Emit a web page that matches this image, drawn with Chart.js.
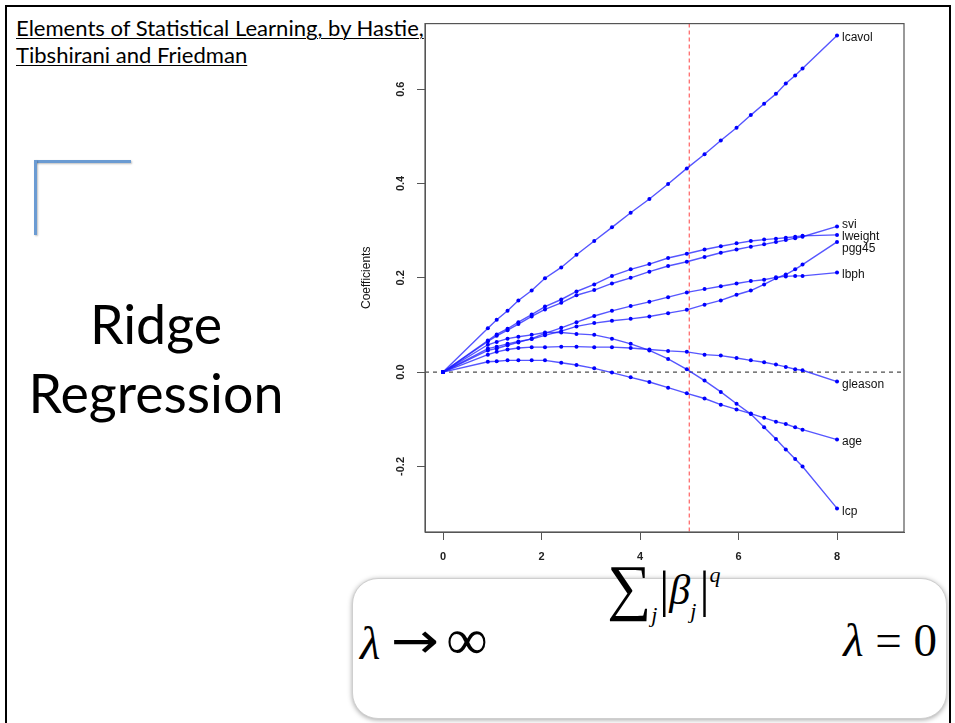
<!DOCTYPE html>
<html>
<head>
<meta charset="utf-8">
<script src="https://cdn.jsdelivr.net/npm/chart.js@4.4.1/dist/chart.umd.min.js"></script>
<style>
  html, body { margin: 0; padding: 0; background: #fff; }
  body { width: 955px; height: 723px; position: relative; overflow: hidden; }
  .abs { position: absolute; white-space: nowrap; }
  #frame { left: 5px; top: 5px; width: 946px; height: 760px; border: 2px solid #000; box-sizing: border-box; }
  #title { left: 16px; top: 14px; font-family: Lato, "Open Sans", sans-serif; font-size: 20px; line-height: 27px; color: #000; }
  #title span { text-decoration: underline; text-underline-offset: 2px; text-decoration-thickness: 1px; }
  .bracket { background: #6b9bd2; box-shadow: 1px 1px 2px rgba(0,0,0,0.25); }
  .big { font-family: Lato, "Open Sans", sans-serif; font-size: 48px; line-height: 48px; color: #000; text-align: center; width: 320px; left: -4px; }
  #box { left: 352px; top: 578px; width: 595px; height: 141px; border: 1px solid #cfcfcf; border-radius: 26px; box-shadow: 0 1px 5px rgba(0,0,0,0.35); background: #fff; box-sizing: border-box; }
  .math { font-family: "Liberation Serif", "Times New Roman", serif; color: #000; }
  .arrow { font-family: "DejaVu Sans", sans-serif; font-size: 50px; display: inline-block; transform: scaleX(1.15); margin: 0 10px 0 14px; position: relative; top: -1px; }
  #chartWrap { left: 340px; top: 10px; width: 600px; height: 565px; }
</style>
</head>
<body>
<div id="frame" class="abs"></div>
<div id="title" class="abs"><span id="t1">Elements of Statistical Learning, by Hastie,</span><br><span>Tibshirani and Friedman</span></div>
<div class="abs bracket" style="left:34px; top:160px; width:97px; height:3px;"></div>
<div class="abs bracket" style="left:34px; top:160px; width:3px; height:75px;"></div>
<div id="ridge" class="abs big" style="top:299px;">Ridge</div>
<div id="regr" class="abs big" style="top:368px;">Regression</div>

<div id="box" class="abs"></div>
<div class="abs math" style="left:360px; top:614px; font-size:47px; line-height:52px;"><i>λ</i><span class="arrow">→</span><span style="font-size:58px;">∞</span></div>
<div class="abs math" style="right:18px; top:614px; font-size:47px; line-height:52px;"><i>λ</i> = 0</div>
<div class="abs math" style="left:607px; top:552px; line-height:70px;">
  <span style="font-size:62px;">∑</span><span style="font-size:22px; font-style:italic; position:relative; top:14px;">j</span><span style="font-size:50px; position:relative; top:-2px; margin-left:2px;">|</span><span style="font-size:42px; font-style:italic; position:relative; top:-4px;">β</span><span style="font-size:22px; font-style:italic; position:relative; top:10px;">j</span><span style="font-size:50px; position:relative; top:-2px; margin-left:3px;">|</span><span style="font-size:22px; font-style:italic; position:relative; top:-26px;">q</span>
</div>

<div id="chartWrap" class="abs"><canvas id="ridgeChart" width="600" height="565"></canvas></div>

<script>
(function(){
  // ridge coefficient profiles (x = df(lambda))
  const dfGrid = [0, 0.91, 1.09, 1.31, 1.53, 1.80, 2.07, 2.40, 2.71, 3.07, 3.43, 3.81, 4.19, 4.57, 4.95, 5.31, 5.64, 5.96, 6.25, 6.52, 6.76, 6.96, 7.15, 7.30, 8.00];
  const lcavol  = [0, 0.093, 0.111, 0.130, 0.152, 0.173, 0.199, 0.222, 0.249, 0.278, 0.307, 0.338, 0.367, 0.399, 0.432, 0.462, 0.491, 0.518, 0.545, 0.569, 0.590, 0.612, 0.629, 0.644, 0.714];
  const lweight = [0, 0.067, 0.080, 0.092, 0.106, 0.122, 0.139, 0.154, 0.171, 0.186, 0.204, 0.218, 0.229, 0.242, 0.251, 0.260, 0.267, 0.273, 0.278, 0.281, 0.283, 0.285, 0.287, 0.289, 0.291];
  const svi     = [0, 0.065, 0.077, 0.089, 0.102, 0.118, 0.133, 0.147, 0.163, 0.174, 0.188, 0.200, 0.213, 0.225, 0.234, 0.244, 0.253, 0.260, 0.266, 0.271, 0.276, 0.280, 0.284, 0.287, 0.309];
  const lbph    = [0, 0.046, 0.050, 0.057, 0.063, 0.071, 0.082, 0.094, 0.106, 0.119, 0.130, 0.140, 0.149, 0.159, 0.169, 0.176, 0.182, 0.188, 0.193, 0.196, 0.201, 0.203, 0.204, 0.204, 0.211];
  const pgg45   = [0, 0.050, 0.054, 0.060, 0.065, 0.070, 0.078, 0.087, 0.097, 0.104, 0.109, 0.113, 0.118, 0.125, 0.132, 0.143, 0.152, 0.164, 0.173, 0.186, 0.199, 0.207, 0.218, 0.228, 0.276];
  const gleason = [0, 0.037, 0.043, 0.048, 0.051, 0.053, 0.053, 0.054, 0.054, 0.053, 0.053, 0.051, 0.048, 0.045, 0.043, 0.037, 0.035, 0.030, 0.025, 0.021, 0.016, 0.011, 0.006, 0.004, -0.020];
  const lcp     = [0, 0.058, 0.064, 0.071, 0.075, 0.079, 0.084, 0.084, 0.081, 0.079, 0.071, 0.060, 0.046, 0.028, 0.006, -0.018, -0.042, -0.067, -0.089, -0.117, -0.142, -0.164, -0.184, -0.200, -0.289];
  const age     = [0, 0.022, 0.023, 0.025, 0.025, 0.025, 0.025, 0.020, 0.015, 0.008, -0.001, -0.011, -0.021, -0.033, -0.045, -0.056, -0.069, -0.079, -0.088, -0.097, -0.105, -0.110, -0.117, -0.122, -0.143];

  const seriesNames = ['lcavol', 'lweight', 'age', 'lbph', 'svi', 'lcp', 'gleason', 'pgg45'];
  const seriesData  = [lcavol, lweight, age, lbph, svi, lcp, gleason, pgg45];
  // where the end labels sit (spread a little so they don't collide)
  const labelY      = [0.709, 0.288, -0.147, 0.206, 0.312, -0.295, -0.027, 0.261];

  const xTicks = [0, 2, 4, 6, 8];
  const yTicks = [-0.2, 0.0, 0.2, 0.4, 0.6];
  const xRange = [-0.366, 9.36];
  const yRange = [-0.339, 0.739];
  const chosenDf = 5;

  // fit big slide text to the widths in the picture
  function fitWidth(el, target) {
    const fs = parseFloat(getComputedStyle(el).fontSize);
    const r = document.createRange(); r.selectNodeContents(el);
    const w = r.getBoundingClientRect().width;
    return fs * target / w;
  }
  const t1 = document.getElementById('t1');
  document.getElementById('title').style.fontSize = fitWidth(t1, 408) + 'px';
  const regr = document.getElementById('regr');
  const bigSize = fitWidth(regr, 255);
  regr.style.fontSize = bigSize + 'px';
  document.getElementById('ridge').style.fontSize = bigSize + 'px';

  const frameBox = {
    id: 'frameBox',
    beforeDatasetsDraw(chart) {
      const {ctx, chartArea: a, scales: {x, y}} = chart;
      ctx.save();
      // zero line
      ctx.strokeStyle = '#555'; ctx.lineWidth = 1.3; ctx.setLineDash([4, 4]);
      const y0 = y.getPixelForValue(0);
      ctx.beginPath(); ctx.moveTo(a.left, y0); ctx.lineTo(a.right, y0); ctx.stroke();
      // chosen df
      ctx.strokeStyle = 'rgba(255,80,80,0.9)'; ctx.lineWidth = 1.2; ctx.setLineDash([4, 3]);
      const xd = x.getPixelForValue(chosenDf);
      ctx.beginPath(); ctx.moveTo(xd, a.top); ctx.lineTo(xd, a.bottom); ctx.stroke();
      ctx.restore();
    },
    afterDraw(chart) {
      const {ctx, chartArea: a} = chart;
      ctx.save();
      ctx.strokeStyle = '#555'; ctx.lineWidth = 1.2;
      ctx.strokeRect(a.left, a.top, a.right - a.left, a.bottom - a.top);
      ctx.restore();
    }
  };

  const endLabels = {
    id: 'endLabels',
    afterDatasetsDraw(chart) {
      const {ctx, scales: {y}} = chart;
      ctx.save();
      ctx.font = '12px "Liberation Sans", Arial, sans-serif';
      ctx.fillStyle = '#111';
      ctx.textAlign = 'left'; ctx.textBaseline = 'middle';
      chart.data.datasets.forEach((ds, i) => {
        const pts = chart.getDatasetMeta(i).data;
        const last = pts[pts.length - 1];
        ctx.fillText(ds.label, last.x + 5, y.getPixelForValue(labelY[i]));
      });
      ctx.restore();
    }
  };

  const axisFont = {family: '"Liberation Sans", Arial, sans-serif', size: 11, weight: 'bold'};

  new Chart(document.getElementById('ridgeChart'), {
    type: 'line',
    data: {
      datasets: seriesNames.map((name, i) => ({
        label: name,
        data: dfGrid.map((d, j) => ({x: d, y: seriesData[i][j]})),
        borderColor: 'rgba(30,30,255,0.75)',
        borderWidth: 1.4,
        pointRadius: 2,
        pointBackgroundColor: '#0000ff',
        pointBorderWidth: 0,
        tension: 0,
        fill: false
      }))
    },
    options: {
      responsive: false,
      animation: false,
      layout: {padding: {top: 10, right: 36, left: 0, bottom: 0}},
      plugins: {legend: {display: false}, tooltip: {enabled: false}},
      scales: {
        x: {
          type: 'linear', min: xRange[0], max: xRange[1],
          afterBuildTicks: s => { s.ticks = xTicks.map(v => ({value: v})); },
          afterFit: s => { s.height = 43; },
          grid: {drawOnChartArea: false, drawTicks: true, tickLength: 8, color: '#555', lineWidth: 1},
          border: {display: true, color: '#555', width: 1},
          ticks: {font: axisFont, color: '#222', padding: 10, maxRotation: 0, callback: v => String(v)}
        },
        y: {
          type: 'linear', min: yRange[0], max: yRange[1],
          afterBuildTicks: s => { s.ticks = yTicks.map(v => ({value: v})); },
          afterFit: s => { s.width = 85; },
          grid: {drawOnChartArea: false, drawTicks: true, tickLength: 8, color: '#555', lineWidth: 1},
          border: {display: true, color: '#555', width: 1},
          ticks: {font: axisFont, color: '#222', padding: 7, minRotation: 90, maxRotation: 90, crossAlign: 'center',
                  callback: v => v.toFixed(1)},
          title: {display: true, text: 'Coefficients', color: '#111',
                  font: {family: '"Liberation Sans", Arial, sans-serif', size: 12}, padding: {top: 19, bottom: 0}}
        }
      }
    },
    plugins: [frameBox, endLabels]
  });
})();
</script>
</body>
</html>
